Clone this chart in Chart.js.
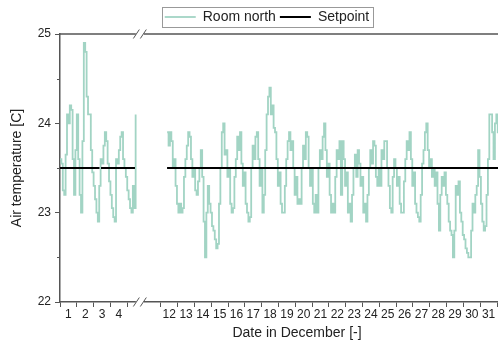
<!DOCTYPE html>
<html>
<head>
<meta charset="utf-8">
<script src="https://cdn.jsdelivr.net/npm/chart.js@4.4.0/dist/chart.umd.min.js"></script>
<style>
  html, body { margin: 0; padding: 0; overflow: hidden; background: #fff; }
  #wrap { width: 534px; height: 343px; }
</style>
</head>
<body>
<div id="wrap"><canvas id="myChart" width="534" height="343"></canvas></div>
<script>
// Room north, logged every 2 hours; time in days since 1 Dec 00:00, temperature in C
const SAMPLE_STEP = 1 / 12;

const roomNorthStart1 = 0.0;
const roomNorthDec1to5 = [
    23.6, 23.55, 23.25, 23.2, 23.65, 24.1, 24.0, 24.2, 24.15, 23.6, 23.2, 23.7,
    24.1, 23.6, 23.2, 23.0, 23.8, 24.9, 24.8, 24.3, 24.1, 24.1, 23.7, 23.45,
    23.3, 23.15, 23.0, 22.9, 23.3, 23.6, 23.55, 23.75, 23.9, 23.8, 23.55, 23.35,
    23.2, 23.05, 22.95, 22.9, 23.6, 23.55, 23.7, 23.85, 23.9, 23.6, 23.5, 23.4,
    23.25, 23.15, 23.05, 23.0, 23.3, 23.05, 24.1
];

const roomNorthStart2 = 11.375;
const roomNorthDec12to31 = [
    23.9, 23.75, 23.9, 23.8, 23.5, 23.6, 23.3, 23.1, 23.0, 23.1, 23.0, 23.05,
    23.4, 23.6, 23.75, 23.9, 23.85, 23.6, 23.4, 23.5, 23.25, 23.2, 23.35, 23.5,
    23.7, 23.4, 22.9, 22.5, 23.0, 23.3, 23.1, 23.0, 22.85, 22.8, 22.7, 22.6,
    22.65, 23.1, 23.5, 23.9, 24.0, 23.65, 23.7, 23.4, 23.5, 23.1, 23.0, 23.05,
    23.4, 23.6, 23.85, 23.7, 23.9, 23.55, 23.3, 23.45, 23.1, 23.0, 22.9, 22.95,
    23.5, 23.75, 23.6, 23.85, 23.9, 23.6, 23.3, 23.5, 23.0, 23.2, 23.7, 24.1,
    24.3, 24.4, 24.1, 24.2, 23.95, 23.9, 23.6, 23.3, 23.45, 23.1, 23.0, 23.0,
    23.3, 23.6, 23.8, 23.9, 23.7, 23.8, 23.5, 23.2, 23.4, 23.1, 23.15, 23.1,
    23.5, 23.75, 23.6, 23.9, 23.85, 23.5, 23.3, 23.5, 23.1, 23.0, 23.2, 23.0,
    23.5, 23.7, 23.6, 23.85, 24.0, 23.7, 23.4, 23.55, 23.2, 23.0, 23.1, 23.0,
    23.4, 23.7, 23.6, 23.8, 23.2, 23.8, 23.6, 23.3, 23.45, 23.0, 23.1, 22.9,
    23.2, 23.5, 23.65, 23.4, 23.7, 23.55, 23.3, 23.4, 23.0, 23.1, 22.9, 23.2,
    23.5, 23.7, 23.55, 23.8, 23.75, 23.4, 23.3, 23.5, 23.3, 23.7, 23.6, 23.8,
    23.8, 23.5, 23.3, 23.05, 23.0, 23.4, 23.6, 23.5, 23.3, 23.4, 23.1, 23.0,
    23.0, 23.35, 23.6, 23.8, 23.7, 23.9, 23.6, 23.3, 23.45, 23.1, 23.0, 22.95,
    22.9, 23.2, 23.55, 23.7, 23.9, 24.0, 23.7, 23.5, 23.6, 23.4, 23.5, 23.3,
    23.45, 23.1, 22.8, 23.2, 23.4, 23.3, 23.45, 23.2, 23.1, 22.9, 22.8, 22.75,
    22.5, 22.8, 23.3, 23.2, 23.35, 23.0, 22.9, 22.75, 22.7, 22.6, 22.55, 22.5,
    22.5, 22.8, 23.1, 23.0, 23.2, 23.3, 23.7, 23.4, 23.1, 22.9, 22.8, 22.85,
    23.2, 23.6, 24.1, 24.1, 23.9, 23.6, 24.0, 24.1, 23.9, 24.0, 23.8, 24.0
];

const setpointTemp = 23.5;
const setpointSpans = [[0.0, 2.35], [2.44, 4.46], [11.37, 31.3]];

const daysShownLeft = [1, 2, 3, 4];
const daysShownRight = [12, 13, 14, 15, 16, 17, 18, 19, 20, 21, 22, 23, 24, 25, 26, 27, 28, 29, 30, 31];
const tempTicks = [22, 23, 24, 25];
const tempMinorTicks = [22.5, 23.5, 24.5];

// days 6..11 are cut out of the x axis
const CUT_FROM = 5;
const CUT_SHIFT = 5;
const BREAK_AT = 4.75;
const X_MAX = 28.2;

const FONT = "'Liberation Sans', Arial, sans-serif";
const TEXT = '#222';
const AXIS = '#555';
const ROOM_COLOR = '#a2d4c4';

function axisPos(t) {
    return t <= CUT_FROM ? t : t - CUT_SHIFT;
}
function key(v) {
    return Number(v).toFixed(2);
}

// tick marks sit on day boundaries, labels in the middle of each day
let boundaryKeys = new Set();
let dayLabelAt = new Map();
let xTickValues = [];

[0].concat(daysShownLeft).forEach(d => {
    boundaryKeys.add(key(axisPos(d)));
    xTickValues.push(axisPos(d));
});
[daysShownRight[0] - 1].concat(daysShownRight).forEach(d => {
    boundaryKeys.add(key(axisPos(d)));
    xTickValues.push(axisPos(d));
});
daysShownLeft.concat(daysShownRight).forEach(d => {
    let p = axisPos(d - 0.5);
    dayLabelAt.set(key(p), String(d));
    xTickValues.push(p);
});
xTickValues.sort((a, b) => a - b);

let roomData = roomNorthDec1to5.map((v, i) => ({x: axisPos(roomNorthStart1 + i * SAMPLE_STEP), y: v}));
roomData.push({x: BREAK_AT, y: null});
roomNorthDec12to31.forEach((v, i) => roomData.push({x: axisPos(roomNorthStart2 + i * SAMPLE_STEP), y: v}));

let setpointData = [];
setpointSpans.forEach(span => {
    setpointData.push({x: axisPos(span[0]), y: setpointTemp});
    setpointData.push({x: axisPos(span[1]), y: setpointTemp});
    setpointData.push({x: axisPos(span[1]) + 0.01, y: null});
});

// top frame line, minor y ticks and the axis break marks
const axisDecor = {
    id: 'axisDecor',
    afterDraw(chart) {
        const ctx = chart.ctx;
        const a = chart.chartArea;
        const xs = chart.scales.x;
        const ys = chart.scales.y;
        ctx.save();
        ctx.strokeStyle = AXIS;
        ctx.lineWidth = 1.5;
        ctx.beginPath();
        ctx.moveTo(a.left, a.top);
        ctx.lineTo(a.right, a.top);
        ctx.stroke();

        ctx.lineWidth = 1;
        tempMinorTicks.forEach(v => {
            let py = Math.round(ys.getPixelForValue(v)) + 0.5;
            ctx.beginPath();
            ctx.moveTo(a.left - 3, py);
            ctx.lineTo(a.left, py);
            ctx.stroke();
        });

        let bx = xs.getPixelForValue(BREAK_AT);
        [a.top, a.bottom].forEach(py => {
            ctx.fillStyle = '#fff';
            ctx.fillRect(bx - 4, py - 2, 8, 4);
            ctx.beginPath();
            [-3.5, 3.5].forEach(dx => {
                ctx.moveTo(bx + dx - 3, py + 4.5);
                ctx.lineTo(bx + dx + 3, py - 4.5);
            });
            ctx.stroke();
        });
        ctx.restore();
    }
};

// frame around the legend
const legendFrame = {
    id: 'legendFrame',
    afterDraw(chart) {
        const boxes = chart.legend && chart.legend.legendHitBoxes;
        if (!boxes || !boxes.length) return;
        const ctx = chart.ctx;
        let l = Math.min(...boxes.map(b => b.left)) - 3;
        let r = Math.max(...boxes.map(b => b.left + b.width)) + 3;
        let t = boxes[0].top - 3;
        let b = boxes[0].top + boxes[0].height + 3;
        ctx.save();
        ctx.strokeStyle = '#999';
        ctx.lineWidth = 1;
        ctx.strokeRect(Math.round(l) + 0.5, Math.round(t) + 0.5, Math.round(r - l), Math.round(b - t));
        ctx.restore();
    }
};

let config = {
    type: 'line',
    data: {
        datasets: [
            {
                label: 'Room north',
                data: roomData,
                borderColor: ROOM_COLOR,
                backgroundColor: ROOM_COLOR,
                borderWidth: 1.8,
                pointRadius: 0,
                stepped: true,
                order: 1
            },
            {
                label: 'Setpoint',
                data: setpointData,
                borderColor: '#000',
                backgroundColor: '#000',
                borderWidth: 2,
                pointRadius: 0,
                tension: 0,
                order: 0
            }
        ]
    },
    options: {
        responsive: false,
        animation: false,
        layout: { padding: { top: 6, left: 0, right: 0, bottom: 0 } },
        plugins: {
            tooltip: { enabled: false },
            legend: {
                display: true,
                position: 'top',
                labels: {
                    usePointStyle: true,
                    pointStyle: 'line',
                    pointStyleWidth: 31,
                    padding: 4,
                    color: TEXT,
                    font: { size: 14, family: FONT },
                    sort: (a, b) => a.datasetIndex - b.datasetIndex
                }
            }
        },
        scales: {
            x: {
                type: 'linear',
                min: 0,
                max: X_MAX,
                afterFit: s => { s.height = 41; },
                afterBuildTicks: s => { s.ticks = xTickValues.map(v => ({value: v})); },
                border: { color: AXIS, width: 1.5 },
                grid: {
                    drawOnChartArea: false,
                    tickLength: 5,
                    tickWidth: 1,
                    tickColor: c => (c.tick && boundaryKeys.has(key(c.tick.value))) ? AXIS : 'rgba(0,0,0,0)'
                },
                ticks: {
                    autoSkip: false,
                    maxRotation: 0,
                    padding: 0,
                    color: TEXT,
                    font: { size: 12, family: FONT },
                    callback: v => dayLabelAt.get(key(v)) || ''
                },
                title: {
                    display: true,
                    text: 'Date in December [-]',
                    color: TEXT,
                    font: { size: 14, family: FONT },
                    padding: { top: 0, bottom: 1 }
                }
            },
            y: {
                min: 22,
                max: 25,
                afterFit: s => { s.width = 60; },
                afterBuildTicks: s => { s.ticks = tempTicks.map(v => ({value: v})); },
                border: { color: AXIS, width: 1.5 },
                grid: { drawOnChartArea: false, tickLength: 5, tickWidth: 1, tickColor: AXIS },
                ticks: {
                    padding: 4,
                    color: TEXT,
                    font: { size: 12, family: FONT }
                },
                title: {
                    display: true,
                    text: 'Air temperature [C]',
                    color: TEXT,
                    font: { size: 14, family: FONT },
                    padding: { top: 9, bottom: 0 }
                }
            }
        }
    },
    plugins: [axisDecor, legendFrame]
};

window.chart = new Chart(document.getElementById('myChart'), config);
</script>
</body>
</html>
